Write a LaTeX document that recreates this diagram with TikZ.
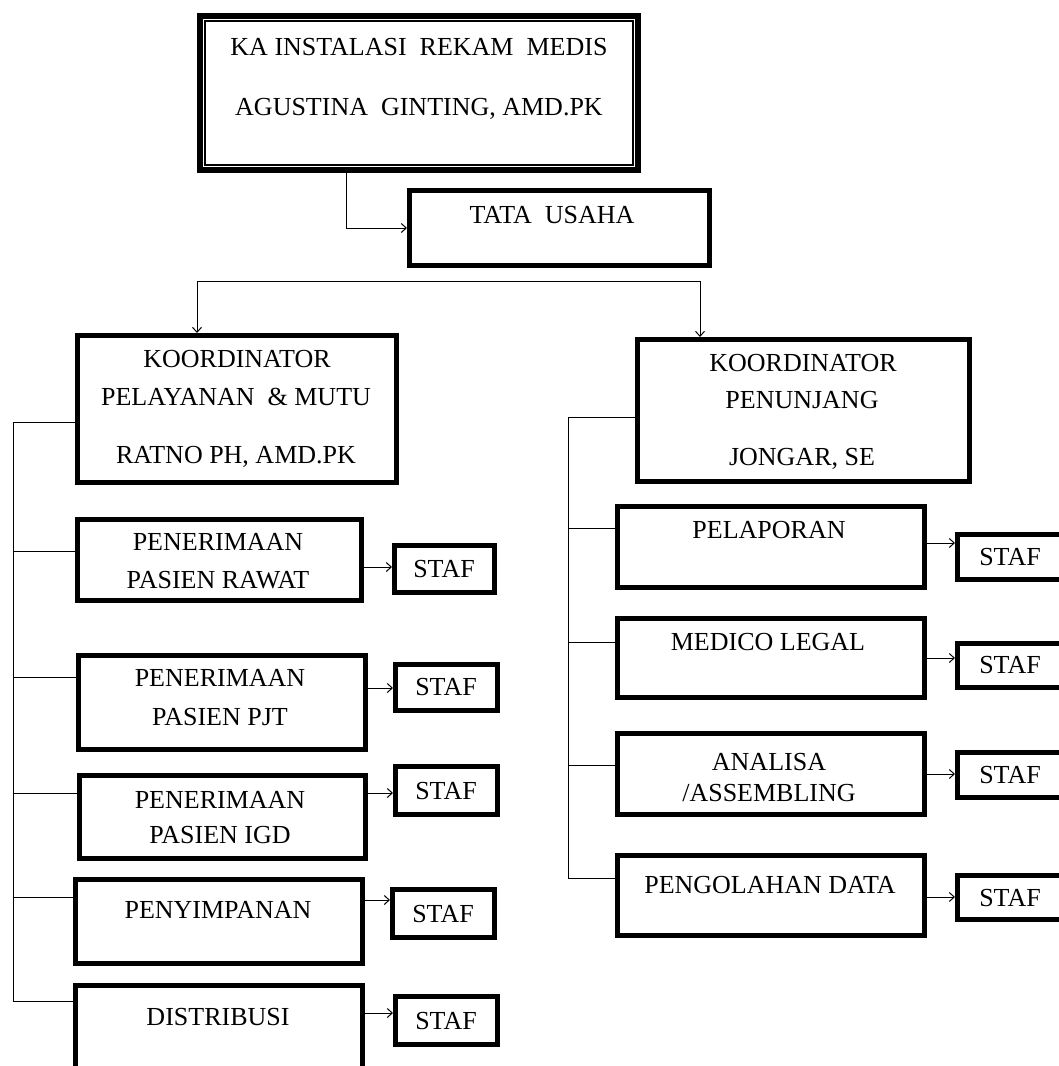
\documentclass[tikz,border=0pt]{standalone}
\usepackage{fontspec}
\setmainfont{Liberation Serif}
\usetikzlibrary{arrows.meta}
\tikzset{
  box/.style={draw, line width=5pt, inner sep=0pt, outer sep=2.5pt, rectangle},
  txt/.style={anchor=base, inner sep=0pt, font=\fontsize{26}{30}\selectfont},
  conn/.style={line width=1pt},
  arr/.style={line width=1pt, -{Straight Barb[length=5pt,width=9pt,line width=1pt]}},
}
\newcommand\mkbox[5]{\node[box, minimum width={#4-#2-5}, minimum height={#5-#3-5}] (#1) at ({(#2+#4)/2},{(#3+#5)/2}) {};}
\newcommand\tx[4]{\node[txt] (#1) at (#2,{#3+8.5}) {#4};}
\begin{document}
\begin{tikzpicture}[x=1pt,y=-1pt]
\clip (0,0) rectangle (1059,1066);
\fill[white] (0,0) rectangle (1059,1066);
% top box
\node[box, line width=6pt, outer sep=3pt, minimum width=438, minimum height=154] (top) at (419,93) {};
\draw[line width=1.2pt] ([shift={(8,8)}]top.north west) rectangle ([shift={(-8,-8)}]top.south east);
\tx{t1}{419}{47}{KA INSTALASI\ \ REKAM\ \ MEDIS}
\tx{t2}{419}{107}{AGUSTINA\ \ GINTING, AMD.PK}
% tata usaha
\mkbox{tu}{407}{188}{712}{268}
\tx{t3}{552}{215}{TATA\ \ USAHA}
% coordinators
\mkbox{kl}{75}{333}{399}{485}
\tx{t4}{237}{359}{KOORDINATOR}
\tx{t5}{236}{397}{PELAYANAN\ \ \& MUTU}
\tx{t6}{236}{455}{RATNO PH, AMD.PK}
\mkbox{kp}{635}{337}{972}{484}
\tx{t7}{803}{363}{KOORDINATOR}
\tx{t8}{802}{400}{PENUNJANG}
\tx{t9}{802}{457}{JONGAR, SE}
% left units
\mkbox{pr}{75}{517}{364}{603}
\tx{t10}{218}{542}{PENERIMAAN}
\tx{t11}{218}{580}{PASIEN RAWAT}
\mkbox{pp}{76}{653}{368}{752}
\tx{t12}{220}{678}{PENERIMAAN}
\tx{t13}{220}{717}{PASIEN PJT}
\mkbox{pi}{77}{773}{368}{861}
\tx{t14}{220}{800}{PENERIMAAN}
\tx{t15}{220}{835}{PASIEN IGD}
\mkbox{ps}{73}{877}{365}{966}
\tx{t16}{218}{910}{PENYIMPANAN}
\mkbox{ds}{73}{983}{365}{1090}
\tx{t17}{218}{1017}{DISTRIBUSI}
% left staf
\mkbox{s1}{392}{543}{497}{595}
\tx{t18}{444}{569}{STAF}
\mkbox{s2}{393}{662}{500}{713}
\tx{t19}{446}{687}{STAF}
\mkbox{s3}{393}{764}{500}{817}
\tx{t20}{446}{791}{STAF}
\mkbox{s4}{390}{887}{497}{940}
\tx{t21}{443}{914}{STAF}
\mkbox{s5}{393}{994}{500}{1047}
\tx{t22}{446}{1021}{STAF}
% right units
\mkbox{pl}{615}{504}{927}{590}
\tx{t23}{769}{530}{PELAPORAN}
\mkbox{ml}{615}{616}{927}{700}
\tx{t24}{768}{642}{MEDICO LEGAL}
\mkbox{an}{615}{731}{927}{817}
\tx{t25}{769}{762}{ANALISA}
\tx{t26}{769}{793}{/ASSEMBLING}
\mkbox{pd}{615}{853}{927}{938}
\tx{t27}{770}{885}{PENGOLAHAN DATA}
% right staf
\mkbox{r1}{955}{532}{1080}{582}
\tx{t28}{1010}{557}{STAF}
\mkbox{r2}{955}{641}{1080}{690}
\tx{t29}{1010}{665}{STAF}
\mkbox{r3}{955}{750}{1080}{800}
\tx{t30}{1010}{775}{STAF}
\mkbox{r4}{955}{873}{1080}{922}
\tx{t31}{1010}{898}{STAF}
% connectors top
\coordinate (tj) at (346,228);
\draw[arr] (top.south -| tj) -- (tj) -- (tu.west |- tj);
\coordinate (hl) at (197,281);
\coordinate (hr) at (700,281);
\draw[arr] (hl) -- (kl.north -| hl);
\draw[arr] (hl) -- (hr) -- (kp.north -| hr);
% left spine
\coordinate (l1) at (13,422);
\coordinate (l2) at (13,551);
\coordinate (l3) at (13,677);
\coordinate (l4) at (13,793);
\coordinate (l5) at (13,897);
\coordinate (l6) at (13,1001);
\draw[conn] (kl.west |- l1) -- (l1) -- (l6) -- (ds.west |- l6);
\draw[conn] (l2) -- (pr.west |- l2);
\draw[conn] (l3) -- (pp.west |- l3);
\draw[conn] (l4) -- (pi.west |- l4);
\draw[conn] (l5) -- (ps.west |- l5);
% right spine
\coordinate (m1) at (568,417);
\coordinate (m2) at (568,528);
\coordinate (m3) at (568,642);
\coordinate (m4) at (568,765);
\coordinate (m5) at (568,878);
\draw[conn] (kp.west |- m1) -- (m1) -- (m5) -- (pd.west |- m5);
\draw[conn] (m2) -- (pl.west |- m2);
\draw[conn] (m3) -- (ml.west |- m3);
\draw[conn] (m4) -- (an.west |- m4);
% staf arrows
\coordinate (a1) at (0,567);
\coordinate (a2) at (0,688);
\coordinate (a3) at (0,793);
\coordinate (a4) at (0,900);
\coordinate (a5) at (0,1013);
\draw[arr] (pr.east |- a1) -- (s1.west |- a1);
\draw[arr] (pp.east |- a2) -- (s2.west |- a2);
\draw[arr] (pi.east |- a3) -- (s3.west |- a3);
\draw[arr] (ps.east |- a4) -- (s4.west |- a4);
\draw[arr] (ds.east |- a5) -- (s5.west |- a5);
\coordinate (b1) at (0,543);
\coordinate (b2) at (0,658);
\coordinate (b3) at (0,774);
\coordinate (b4) at (0,897);
\draw[arr] (pl.east |- b1) -- (r1.west |- b1);
\draw[arr] (ml.east |- b2) -- (r2.west |- b2);
\draw[arr] (an.east |- b3) -- (r3.west |- b3);
\draw[arr] (pd.east |- b4) -- (r4.west |- b4);
\end{tikzpicture}
\end{document}
